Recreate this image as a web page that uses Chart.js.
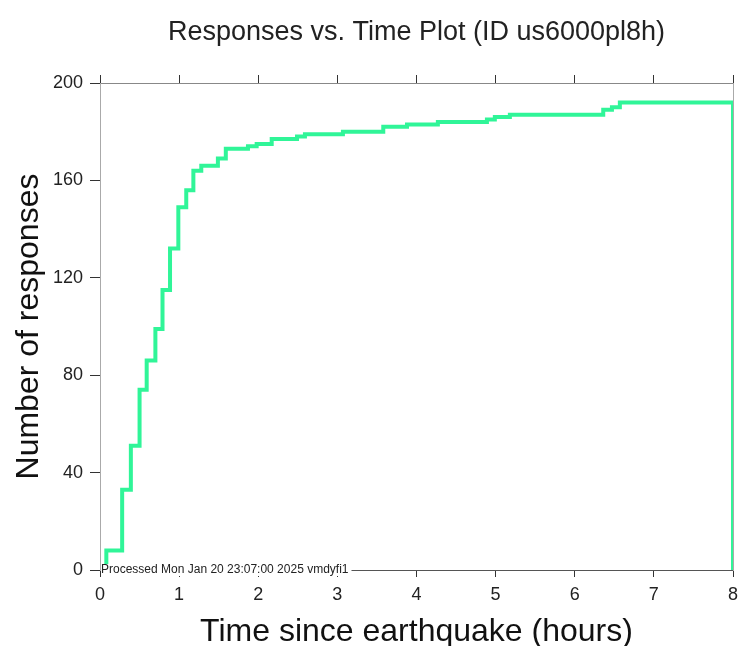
<!DOCTYPE html>
<html><head><meta charset="utf-8">
<script src="https://cdn.jsdelivr.net/npm/chart.js@4/dist/chart.umd.min.js"></script>
<style>html,body{margin:0;padding:0;background:#fff}#wrap{width:740px;height:646px;position:relative}</style>
</head><body><div id="wrap"><canvas id="c"></canvas></div>
<script>
const titleText = "Responses vs. Time Plot (ID us6000pl8h)";
const xAxisTitle = "Time since earthquake (hours)";
const yAxisTitle = "Number of responses";
const footnote = "Processed Mon Jan 20 23:07:00 2025 vmdyfi1";
const hours = [0.08, 0.08, 0.28, 0.39, 0.50, 0.59, 0.70, 0.79, 0.885, 0.99, 1.09, 1.18, 1.28, 1.49, 1.59, 1.87, 1.98, 2.17, 2.49, 2.59, 3.07, 3.58, 3.88, 4.27, 4.89, 4.99, 5.18, 6.36, 6.47, 6.57, 8.0, 8.0];
const responses = [0, 8, 33, 51, 74, 86, 99, 115, 132, 149, 156, 164, 166, 169, 173, 174, 175, 177, 178, 179, 180, 182, 183, 184, 185, 186, 187, 189, 190, 192, 192, 0];
const xTickValues = [0, 1, 2, 3, 4, 5, 6, 7, 8];
const yTickValues = [0, 40, 80, 120, 160, 200];

const points = hours.map((h, i) => ({x: h, y: responses[i]}));
const FONT = "'Liberation Sans', Arial, Helvetica, sans-serif";

const footnotePlugin = {
  id: 'footnote',
  afterDraw(chart) {
    const {ctx, chartArea} = chart;
    ctx.save();
    ctx.font = "12px " + FONT;
    const w = ctx.measureText(footnote).width;
    ctx.fillStyle = '#fff';
    ctx.fillRect(chartArea.left + 1, chartArea.bottom - 6, w + 3, 12);
    ctx.fillStyle = '#222';
    ctx.textBaseline = 'middle';
    ctx.textAlign = 'left';
    ctx.fillText(footnote, chartArea.left + 1, chartArea.bottom);
    ctx.restore();
  }
};

const noPad = s => { s.paddingLeft = 0; s.paddingRight = 0; s.paddingTop = 0; s.paddingBottom = 0; };

new Chart(document.getElementById('c'), {
  type: 'scatter',
  data: {
    datasets: [{
      data: points,
      showLine: true,
      stepped: true,
      borderColor: '#30f598',
      borderWidth: 4,
      pointRadius: 0,
      fill: false
    }]
  },
  options: {
    responsive: true,
    maintainAspectRatio: false,
    animation: false,
    layout: {padding: 0},
    plugins: {legend: {display: false}, tooltip: {enabled: false}, title: {display: false}},
    scales: {
      x: {
        type: 'linear', position: 'bottom', min: 0, max: 8,
        afterBuildTicks: s => { s.ticks = xTickValues.map(v => ({value: v})); },
        ticks: {font: {size: 18, family: FONT}, color: '#222', padding: 7},
        grid: {drawOnChartArea: false, drawTicks: true, tickLength: 7, color: '#333'},
        border: {color: '#555', width: 1},
        title: {display: true, text: xAxisTitle, color: '#111', font: {size: 32, family: FONT, lineHeight: 0.875}, padding: {top: 0, bottom: 0}},
        afterFit: s => { s.height = 76; noPad(s); }
      },
      x2: {
        type: 'linear', position: 'top', min: 0, max: 8,
        afterBuildTicks: s => { s.ticks = xTickValues.map(v => ({value: v})); },
        ticks: {display: false},
        grid: {drawOnChartArea: false, drawTicks: true, tickLength: 8, color: '#333'},
        border: {color: '#888', width: 1},
        title: {display: true, text: titleText, color: '#222', font: {size: 27, family: FONT, lineHeight: 1.2}, padding: {top: 16, bottom: 0}},
        afterFit: s => { s.height = 83; noPad(s); }
      },
      y: {
        type: 'linear', position: 'left', min: 0, max: 200,
        afterBuildTicks: s => { s.ticks = yTickValues.map(v => ({value: v})); },
        ticks: {font: {size: 18, family: FONT}, color: '#222', padding: 7},
        grid: {drawOnChartArea: false, drawTicks: true, tickLength: 10, color: '#333'},
        border: {color: '#aaa', width: 1},
        title: {display: true, text: yAxisTitle, color: '#111', font: {size: 32, family: FONT, lineHeight: 1.2}, padding: {top: 10, bottom: 0}},
        afterFit: s => { s.width = 100; noPad(s); }
      },
      y2: {
        type: 'linear', position: 'right', min: 0, max: 200,
        ticks: {display: false},
        grid: {drawOnChartArea: false, drawTicks: false},
        border: {color: '#aaa', width: 1},
        afterFit: s => { s.width = 7; noPad(s); }
      }
    }
  },
  plugins: [footnotePlugin]
});
</script>
</body></html>
